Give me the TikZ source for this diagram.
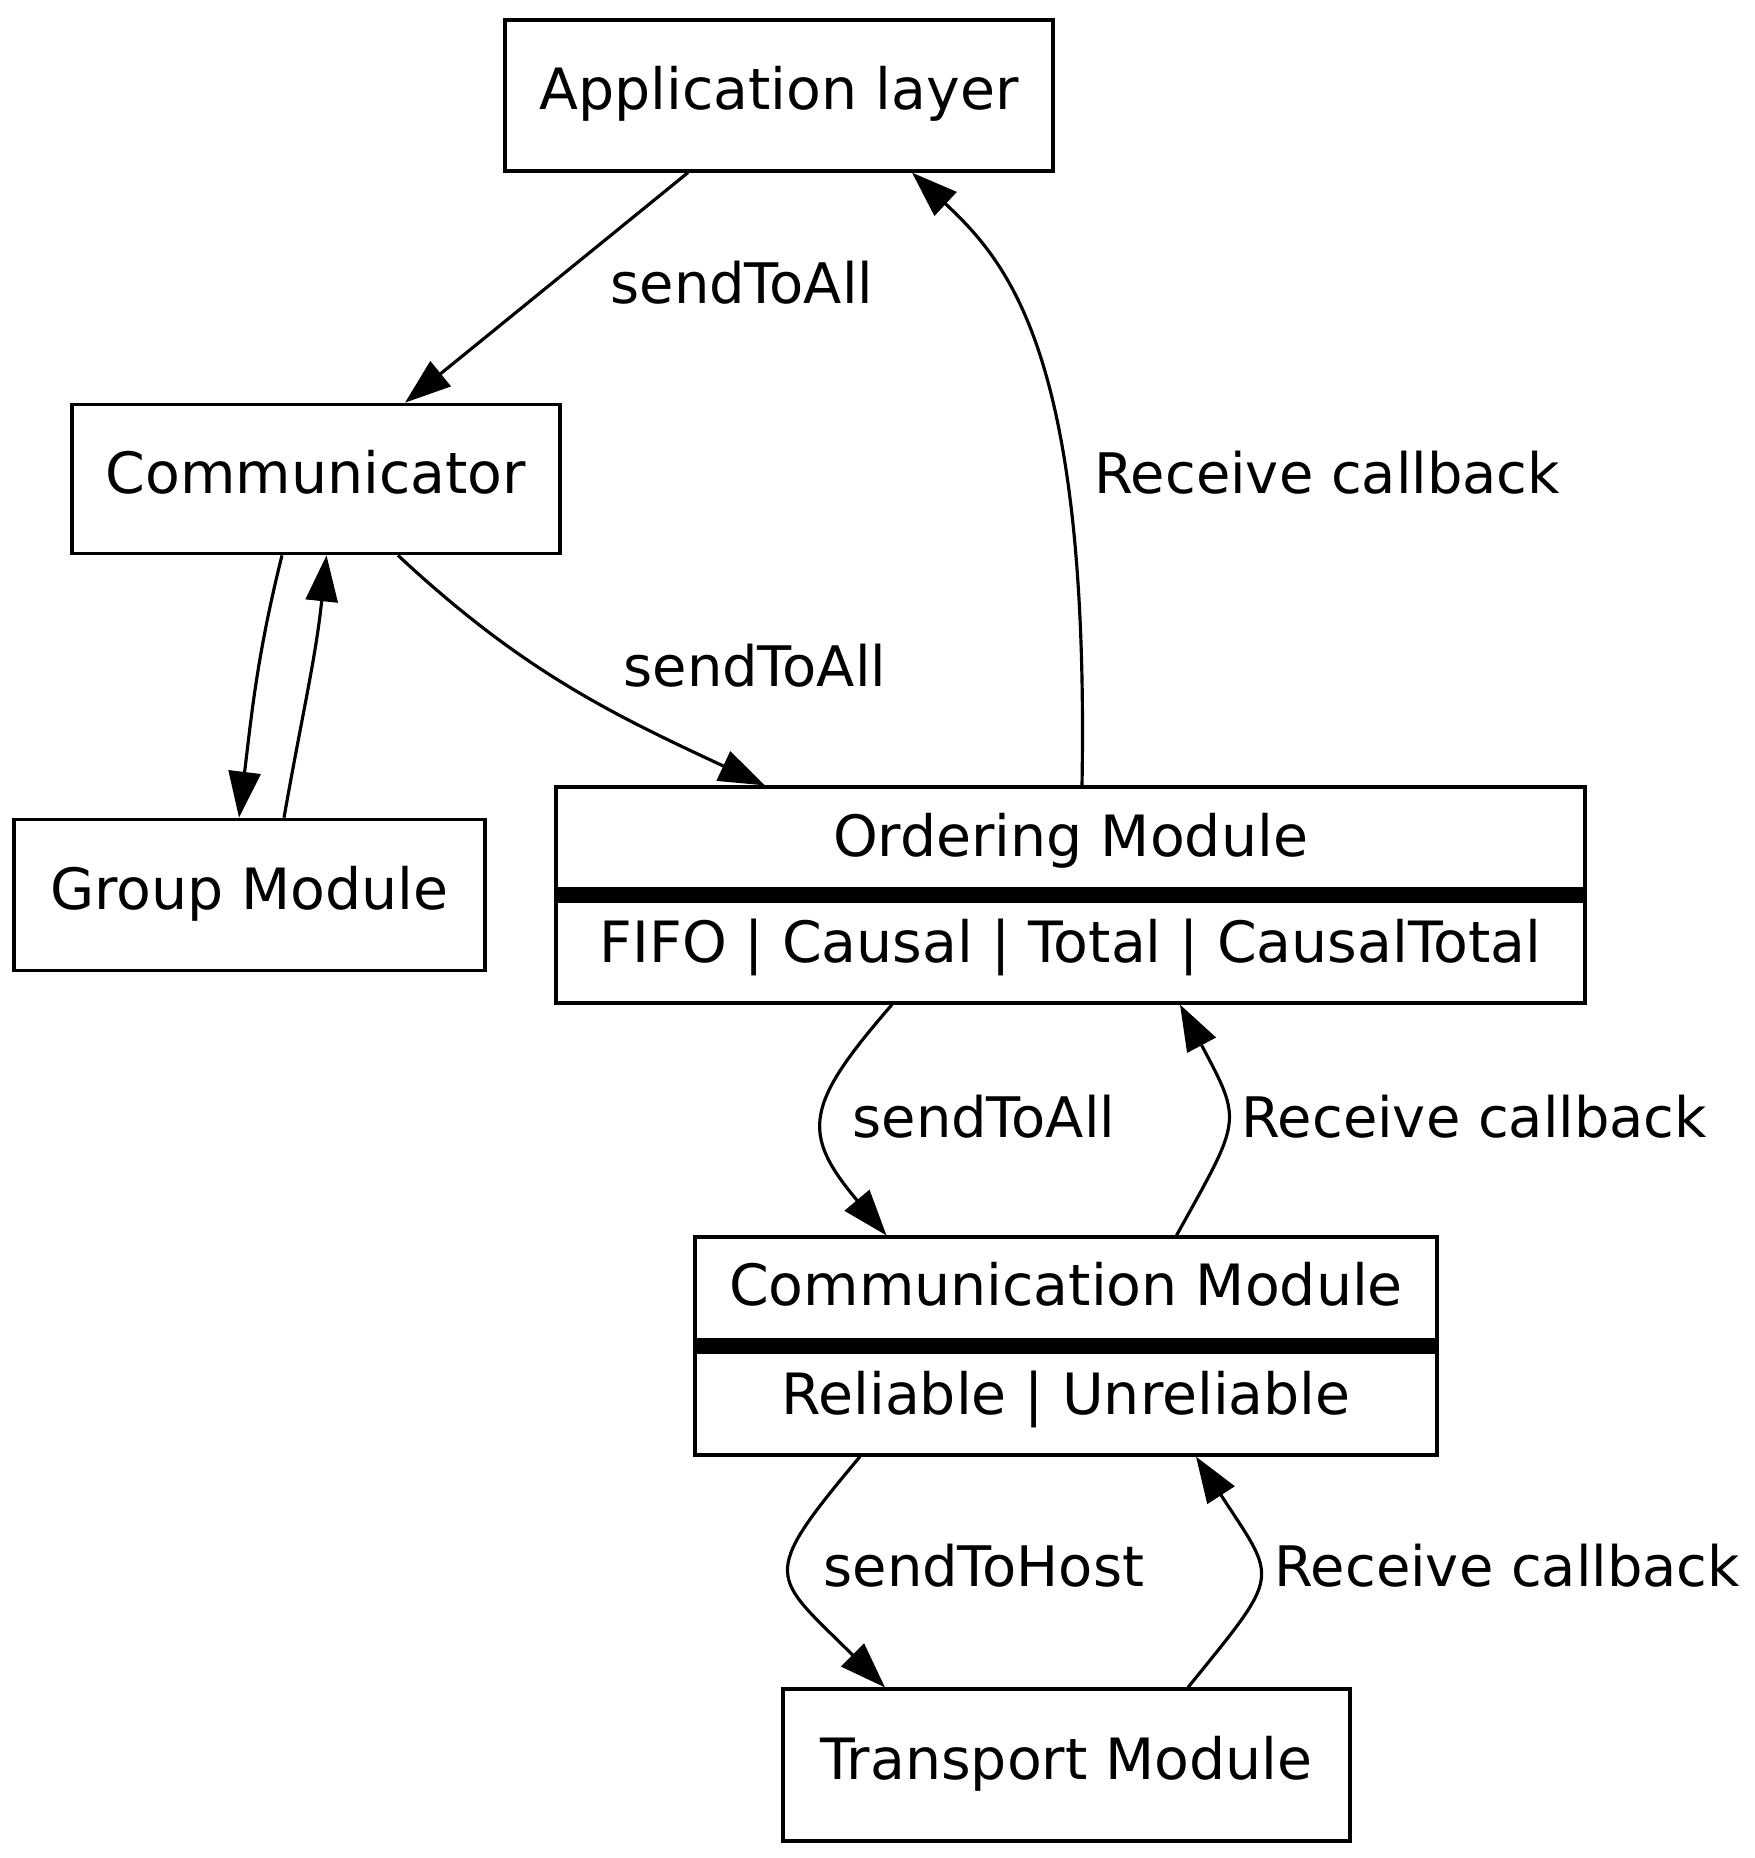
\documentclass[tikz,border=0pt]{standalone}
\usepackage{fontspec}
\setmainfont{DejaVu Sans}
\usetikzlibrary{arrows.meta}

\begin{document}
\begin{tikzpicture}[line width=0.9pt, >={Triangle[length=4.6mm,width=3.2mm]},
        font=\fontsize{15.9}{19}\selectfont,
        box/.style={draw, inner sep=0pt, font=\fontsize{16.2}{19}\selectfont, text height=0.8em, text depth=0em},
        field/.style={inner sep=0pt, font=\fontsize{16.2}{19}\selectfont, text height=0.8em, text depth=0em},
        lbl/.style={inner sep=0pt, anchor=base west}]
            \useasboundingbox (0,0) rectangle (17.54,-18.58);

            \node[box, minimum width=5.48cm, minimum height=1.51cm] (app) at (7.79,-0.955) {Application layer};
            \node[box, minimum width=4.88cm, minimum height=1.495cm] (comm) at (3.16,-4.79) {Communicator};
            \node[box, minimum width=4.71cm, minimum height=1.515cm] (group) at (2.495,-8.95) {Group Module};

            \node[box, minimum width=10.29cm, minimum height=2.16cm] (ord) at (10.705,-8.95) {};
            \node[field] (ordname) at ([yshift=5.3mm]ord.center) {Ordering Module};
            \node[field] (ordkind) at ([yshift=-5.3mm]ord.center) {FIFO | Causal | Total | CausalTotal};
            \draw[line width=1.6mm] (ord.west) -- (ord.east);

            \node[box, minimum width=7.42cm, minimum height=2.18cm] (cmod) at (10.66,-13.46) {};
            \node[field] (cmodname) at ([yshift=5.45mm]cmod.center) {Communication Module};
            \node[field] (cmodkind) at ([yshift=-5.45mm]cmod.center) {Reliable | Unreliable};
            \draw[line width=1.6mm] (cmod.west) -- (cmod.east);

            \node[box, minimum width=5.67cm, minimum height=1.52cm] (trans) at (10.665,-17.65) {Transport Module};

            \draw[->] ([xshift=-9.1mm]app.south) -- ([xshift=8.9mm]comm.north);
            \node[lbl] (send1) at (6.09,-3.03) {sendToAll};
            \draw[->] ([xshift=1.15mm]ord.north) to[out=89, in=-43, out distance=4.27cm, in distance=1.34cm] ([xshift=13.3mm]app.south);
            \node[lbl] (recv1) at (10.93,-4.93) {Receive callback};

            \draw[->] ([xshift=-3.4mm]comm.south) to[out=256, in=83] ([xshift=-1.05mm]group.north);
            \draw[->] ([xshift=3.45mm]group.north) to[out=80, in=264] ([xshift=1.05mm]comm.south);

            \draw[->] ([xshift=8.2mm]comm.south) to[out=-43, in=155] ([xshift=-30.55mm]ord.north);
            \node[lbl] (send2) at (6.22,-6.86) {sendToAll};

            \draw[->] ([xshift=-17.85mm]ord.south) to[out=229, in=130, distance=1.335cm] ([xshift=-17.95mm]cmod.north);
            \node[lbl] (send3) at (8.51,-11.37) {sendToAll};
            \draw[->] ([xshift=11.05mm]cmod.north) to[out=61, in=298, distance=1.34cm] ([xshift=10.95mm]ord.south);
            \node[lbl] (recv2) at (12.40,-11.37) {Receive callback};

            \draw[->] ([xshift=-20.6mm]cmod.south) to[out=230, in=135, distance=1.6cm] ([xshift=-18.15mm]trans.north);
            \node[lbl] (host) at (8.22,-15.86) {sendToHost};
            \draw[->] ([xshift=12.15mm]trans.north) to[out=51, in=303, distance=1.5cm] ([xshift=13mm]cmod.south);
            \node[lbl] (recv3) at (12.73,-15.86) {Receive callback};
        \end{tikzpicture}
\end{document}
